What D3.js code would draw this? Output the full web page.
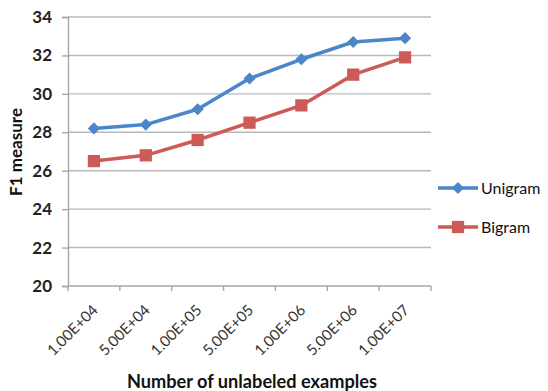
<!DOCTYPE html>
<html>
<head>
<meta charset="utf-8">
<script src="https://cdn.jsdelivr.net/npm/d3@7"></script>
<style>
  html, body { margin: 0; padding: 0; background: #fff; }
  svg { display: block; font-family: Lato, "Open Sans", sans-serif; }
</style>
</head>
<body>
<svg id="chart" width="548" height="391"></svg>
<script>
// Training-set sizes (x categories)
const categories = ["1.00E+04", "5.00E+04", "1.00E+05", "5.00E+05", "1.00E+06", "5.00E+06", "1.00E+07"];
// F1 measure per feature type
const unigram = [28.2, 28.4, 29.2, 30.8, 31.8, 32.7, 32.9];
const bigram  = [26.5, 26.8, 27.6, 28.5, 29.4, 31.0, 31.9];
const yTicks = [20, 22, 24, 26, 28, 30, 32, 34];
const seriesNames = ["Unigram", "Bigram"];

const svg = d3.select("#chart");
const plotLeft = 68, plotRight = 431, plotTop = 17, plotBottom = 286;
const axisGrey = "#a6a6a6";

const x = d3.scaleBand().domain(categories).range([plotLeft, plotRight]).paddingInner(0).paddingOuter(0);
const y = d3.scaleLinear().domain([20, 34]).range([plotBottom, plotTop]);

// shrink/grow a text node's font so it spans the given width
function fitWidth(sel, width) {
  const node = sel.node();
  const fs = parseFloat(sel.attr("font-size"));
  const w = node.getComputedTextLength();
  if (w > 0) sel.attr("font-size", (fs * width / w).toFixed(2));
  return sel;
}

// horizontal gridlines
svg.append("g").selectAll("line").data(yTicks.filter(t => t > 20)).join("line")
  .attr("x1", plotLeft).attr("x2", plotRight)
  .attr("y1", d => y(d)).attr("y2", d => y(d))
  .attr("stroke", "#b8b8b8").attr("stroke-width", 1.4);

// y axis
const yAxis = svg.append("g").attr("transform", `translate(${plotLeft},0)`)
  .call(d3.axisLeft(y).tickValues(yTicks).tickSize(6).tickPadding(10));
yAxis.select(".domain").attr("stroke", axisGrey).attr("stroke-width", 1.4);
yAxis.selectAll(".tick line").attr("stroke", axisGrey).attr("stroke-width", 1.4);
yAxis.selectAll(".tick text").attr("font-size", 17).attr("font-weight", "bold")
  .attr("fill", "#222").attr("font-family", "Lato, sans-serif");

// x axis: ticks at band boundaries, labels at band centres
const xg = svg.append("g");
xg.append("line").attr("x1", plotLeft).attr("x2", plotRight).attr("y1", plotBottom).attr("y2", plotBottom)
  .attr("stroke", axisGrey).attr("stroke-width", 1.4);
const bounds = categories.map(c => x(c)).concat([x(categories[categories.length - 1]) + x.bandwidth()]);
xg.selectAll("line.tk").data(bounds).join("line").attr("class", "tk")
  .attr("x1", d => d).attr("x2", d => d).attr("y1", plotBottom).attr("y2", plotBottom + 5)
  .attr("stroke", axisGrey).attr("stroke-width", 1.4);
xg.selectAll("text").data(categories).join("text")
  .attr("transform", d => `translate(${x(d) + x.bandwidth() / 2 + 5},311) rotate(-45)`)
  .attr("text-anchor", "end")
  .attr("font-size", 15).attr("fill", "#333")
  .text(d => d);

// axis titles
fitWidth(svg.append("text")
  .attr("transform", `translate(22,${152}) rotate(-90)`)
  .attr("text-anchor", "middle").attr("font-size", 17).attr("font-weight", "bold").attr("fill", "#111")
  .text("F1 measure"), 88);
fitWidth(svg.append("text")
  .attr("x", 252).attr("y", 388)
  .attr("text-anchor", "middle").attr("font-size", 17).attr("font-weight", "bold").attr("fill", "#111")
  .text("Number of unlabeled examples"), 250);

const colors = { Unigram: "#4a86c8", Bigram: "#cc5a57" };
const markerType = { Unigram: "diamond", Bigram: "square" };
const cx = (d, i) => x(categories[i]) + x.bandwidth() / 2;
const line = d3.line().x(cx).y(d => y(d));

function marker(sel, name) {
  if (markerType[name] === "diamond") {
    sel.attr("d", d3.symbol().type(d3.symbolSquare).size(74));
    return (tx, ty) => `translate(${tx},${ty}) rotate(45)`;
  }
  sel.attr("d", d3.symbol().type(d3.symbolSquare).size(150));
  return (tx, ty) => `translate(${tx},${ty})`;
}

function drawSeries(values, name) {
  const g = svg.append("g");
  g.append("path").datum(values).attr("d", line)
    .attr("fill", "none").attr("stroke", colors[name]).attr("stroke-width", 3.5).attr("stroke-linejoin", "round");
  const m = g.selectAll("path.m").data(values).join("path").attr("class", "m").attr("fill", colors[name]);
  const tf = marker(m, name);
  m.attr("transform", (d, i) => tf(cx(d, i), y(d)));
}
drawSeries(unigram, "Unigram");
drawSeries(bigram, "Bigram");

// legend
const lg = svg.append("g");
seriesNames.forEach((name, i) => {
  const ly = 188 + i * 39;
  lg.append("line").attr("x1", 438).attr("x2", 478).attr("y1", ly).attr("y2", ly)
    .attr("stroke", colors[name]).attr("stroke-width", 3.5);
  const m = lg.append("path").attr("fill", colors[name]);
  m.attr("transform", marker(m, name)(458, ly));
  lg.append("text").attr("x", 481).attr("y", ly + 6).attr("font-size", 16).attr("fill", "#111").text(name);
});
</script>
</body>
</html>
